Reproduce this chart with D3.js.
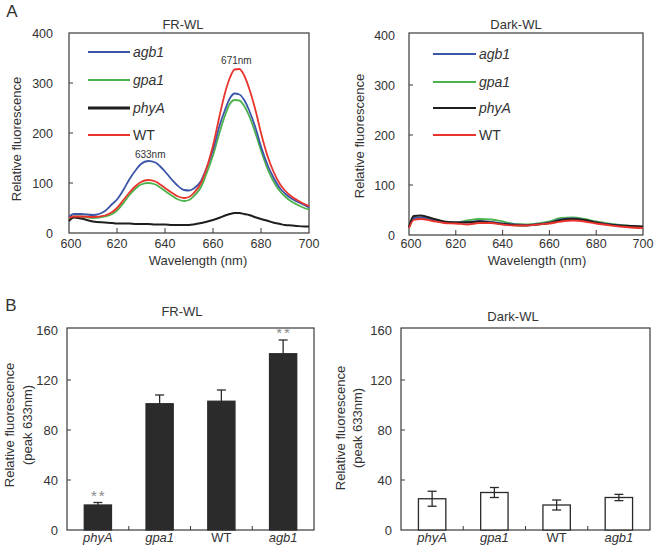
<!DOCTYPE html>
<html><head><meta charset="utf-8">
<script src="https://cdn.jsdelivr.net/npm/d3@7"></script>
<style>
body{margin:0;background:#fff;}
svg{display:block;font-family:"Liberation Sans",Arial,sans-serif;}
</style></head>
<body><svg id="c" width="655" height="552"></svg>
<script>
// ---------- DATA ----------
const seriesNames = ["agb1","gpa1","phyA","WT"];
const seriesColors = ["#3b55a8","#4cb34c","#1e1e1e","#e8342c"];
const italicNames = {agb1:true,gpa1:true,phyA:true,WT:false};

const frWavelength = [600,602,605,610,615,618,620,623,625,628,630,633,636,638,640,643,645,648,650,652,655,657,660,663,665,667,669,671,673,675,678,680,683,685,688,690,693,695,698,700];
const frAgb1 = [32,38,38,36,44,58,67,89,106,127,138,144,141,133,123,106,96,86,85,89,104,126,166,219,246,269,279,277,266,246,206,173,133,113,89,79,68,63,56,51];
const frGpa1 = [28,33,33,30,33,38,45,62,75,90,97,100,97,91,84,74,68,64,66,74,92,115,155,205,235,258,266,265,254,235,195,165,125,105,83,73,62,57,50,47];
const frPhyA = [24,31,29,23,21,20,19,19,19,18,18,18,17,17,17,16,16,16,16,17,20,22,26,31,35,38,40,40,38,36,31,28,24,21,18,16,15,14,13,13];
const frWT   = [30,33,33,32,35,42,50,68,80,95,102,106,103,97,90,80,74,70,72,80,100,125,175,240,280,310,327,328,315,290,240,200,150,125,97,85,72,66,58,54];

const dkWavelength = [600,602,605,610,615,620,625,630,635,640,645,650,655,660,665,670,675,680,685,690,695,700];
const dkAgb1 = [15,34,35,30,26,25,26,28,26,23,21,20,22,25,31,33,30,25,22,19,17,15];
const dkGpa1 = [14,33,34,30,26,25,29,32,31,27,22,21,23,27,34,35,32,27,23,20,18,16];
const dkPhyA = [16,38,39,33,27,25,25,27,25,22,20,19,21,24,30,32,30,25,21,19,18,17];
const dkWT   = [14,30,32,28,24,23,21,24,24,21,19,19,21,23,27,29,27,23,20,17,15,14];

const xTicksA = [600,620,640,660,680,700];
const yTicksA = [0,100,200,300,400];

const barCats = ["phyA","gpa1","WT","agb1"];
const frMean = [20,101,103,141];
const frErr  = [2,7,9,11];
const frSig  = ["**","","","**"];
const dkMean = [25,30,20,26];
const dkErr  = [6,4,4,2.5];
const yTicksB = [0,40,80,120,160];

// ---------- DRAW ----------
const svg = d3.select("#c");
const txt = "#333";

function label(x,y,s,opt={}){
  const t = svg.append("text").attr("x",x).attr("y",y).text(s)
    .attr("font-size",opt.size||13).attr("fill",opt.fill||txt)
    .attr("text-anchor",opt.anchor||"middle");
  if(opt.italic) t.attr("font-style","italic");
  if(opt.rot) t.attr("transform",`rotate(-90,${x},${y})`);
  if(opt.ls) t.attr("letter-spacing",opt.ls);
  return t;
}

function spectrum(cfg){
  const x = d3.scaleLinear().domain([600,700]).range([cfg.x0,cfg.x1]);
  const y = d3.scaleLinear().domain([0,400]).range([cfg.y0,cfg.y1]);
  const g = svg.append("g");
  g.append("rect").attr("x",cfg.x0).attr("y",cfg.top).attr("width",cfg.x1-cfg.x0).attr("height",cfg.y0-cfg.top)
    .attr("fill","none").attr("stroke","#3a3a3a").attr("stroke-width",1.2);
  g.selectAll(".xt").data(xTicksA.slice(1,-1)).join("line")
    .attr("x1",d=>x(d)).attr("x2",d=>x(d)).attr("y1",cfg.y0).attr("y2",cfg.y0-5)
    .attr("stroke","#3a3a3a");
  g.selectAll(".yt").data(yTicksA.slice(1,-1)).join("line")
    .attr("x1",cfg.x0).attr("x2",cfg.x0+4).attr("y1",d=>y(d)).attr("y2",d=>y(d))
    .attr("stroke","#3a3a3a");
  xTicksA.forEach(d=>label(x(d)+ (d===600?2:0), 248, d, {size:12.5}));
  yTicksA.forEach(d=>label(cfg.x0-cfg.ylGap, y(d)+4.5, d, {size:12.5, anchor:"end"}));
  label((cfg.x0+cfg.x1)/2+cfg.xtOff, 265, "Wavelength (nm)", {size:13});
  label(cfg.ylabX, cfg.ylabY, "Relative fluorescence", {size:13, rot:true});
  label(cfg.titleX, 29, cfg.title, {size:13});
  const line = d3.line().x((d,i)=>x(cfg.wl[i])).y(d=>y(d)).curve(d3.curveMonotoneX);
  const order = [1,0,2,3];
  order.forEach(k=>{
    g.append("path").attr("d",line(cfg.data[k])).attr("fill","none")
      .attr("stroke",seriesColors[k]).attr("stroke-width",k===2?2:1.8);
  });
  seriesNames.forEach((n,i)=>{
    const ly = cfg.legY[i];
    g.append("line").attr("x1",cfg.legX0).attr("x2",cfg.legX1).attr("y1",ly).attr("y2",ly)
      .attr("stroke",seriesColors[i]).attr("stroke-width",(i===2&&cfg.thickPhy)?3:2);
    label(cfg.legX1+3, ly+5, n, {size:14, anchor:"start", italic:italicNames[n]});
  });
  return {x,y};
}

const A1 = spectrum({x0:69,x1:309,y0:233,y1:33,top:33,ylGap:16,xtOff:9,ylabX:21,ylabY:139,titleX:183,title:"FR-WL",
  wl:frWavelength,data:[frAgb1,frGpa1,frPhyA,frWT],legX0:88,legX1:130,legY:[52,80,108,135],thickPhy:true});
label(A1.x(633)+2, 158, "633nm", {size:10});
label(A1.x(671)-3, 64, "671nm", {size:10});

spectrum({x0:409,x1:643,y0:235,y1:35,top:33,ylGap:14,xtOff:11,ylabX:364,ylabY:136,titleX:516,title:"Dark-WL",
  wl:dkWavelength,data:[dkAgb1,dkGpa1,dkPhyA,dkWT],legX0:433,legX1:476,legY:[54,82,108,135],thickPhy:false});

label(12, 17, "A", {size:17});
label(11, 311, "B", {size:17});

function bars(cfg){
  const x = d3.scaleBand().domain(barCats).range([cfg.x0,cfg.x1]).paddingInner(0.56).paddingOuter(0.28);
  const y = d3.scaleLinear().domain([0,160]).range([530,330]);
  const g = svg.append("g");
  g.append("rect").attr("x",cfg.x0).attr("y",328).attr("width",cfg.x1-cfg.x0).attr("height",530-328)
    .attr("fill","none").attr("stroke","#3a3a3a").attr("stroke-width",1.2);
  const step = (cfg.x1-cfg.x0)/barCats.length;
  [1,2,3].forEach(i=>g.append("line").attr("x1",cfg.x0+i*step).attr("x2",cfg.x0+i*step)
    .attr("y1",530).attr("y2",526).attr("stroke","#3a3a3a"));
  yTicksB.slice(1,-1).forEach(d=>g.append("line").attr("x1",cfg.x0).attr("x2",cfg.x0+4)
    .attr("y1",y(d)).attr("y2",y(d)).attr("stroke","#3a3a3a"));
  yTicksB.forEach(d=>label(cfg.x0-9, y(d)+4.5, d, {size:13, anchor:"end"}));
  barCats.forEach((c,i)=>{
    const cx = x(c)+x.bandwidth()/2;
    const m = cfg.mean[i], e = cfg.err[i];
    g.append("rect").attr("x",x(c)).attr("y",y(m)).attr("width",x.bandwidth()).attr("height",y(0)-y(m))
      .attr("fill",cfg.fill).attr("stroke","#2a2a2a").attr("stroke-width",1.3);
    const lo = cfg.fill==="#fff" ? m-e : m;
    g.append("line").attr("x1",cx).attr("x2",cx).attr("y1",y(m+e)).attr("y2",y(lo)).attr("stroke","#2a2a2a").attr("stroke-width",1.3);
    g.append("line").attr("x1",cx-4.5).attr("x2",cx+4.5).attr("y1",y(m+e)).attr("y2",y(m+e)).attr("stroke","#2a2a2a").attr("stroke-width",1.3);
    if(cfg.fill==="#fff") g.append("line").attr("x1",cx-4.5).attr("x2",cx+4.5).attr("y1",y(m-e)).attr("y2",y(m-e)).attr("stroke","#2a2a2a").attr("stroke-width",1.3);
    if(cfg.sig && cfg.sig[i]) label(cx+1, y(m+e)-2, cfg.sig[i], {size:15, fill:"#8a8a8a", ls:2});
    label(cx, 542, c, {size:13, italic:italicNames[c]});
  });
  label(cfg.titleX, cfg.titleY, cfg.title, {size:13});
  label(cfg.ylab1X, cfg.ylabY, "Relative fluorescence", {size:13, rot:true});
  label(cfg.ylab2X, cfg.ylabY, "(peak 633nm)", {size:13, rot:true});
}

bars({x0:67,x1:314,mean:frMean,err:frErr,sig:frSig,fill:"#2b2b2b",title:"FR-WL",titleX:182,titleY:316,ylab1X:14,ylab2X:32,ylabY:425});
bars({x0:401,x1:650,mean:dkMean,err:dkErr,sig:null,fill:"#fff",title:"Dark-WL",titleX:513,titleY:321,ylab1X:345,ylab2X:362,ylabY:428});
</script></body></html>
